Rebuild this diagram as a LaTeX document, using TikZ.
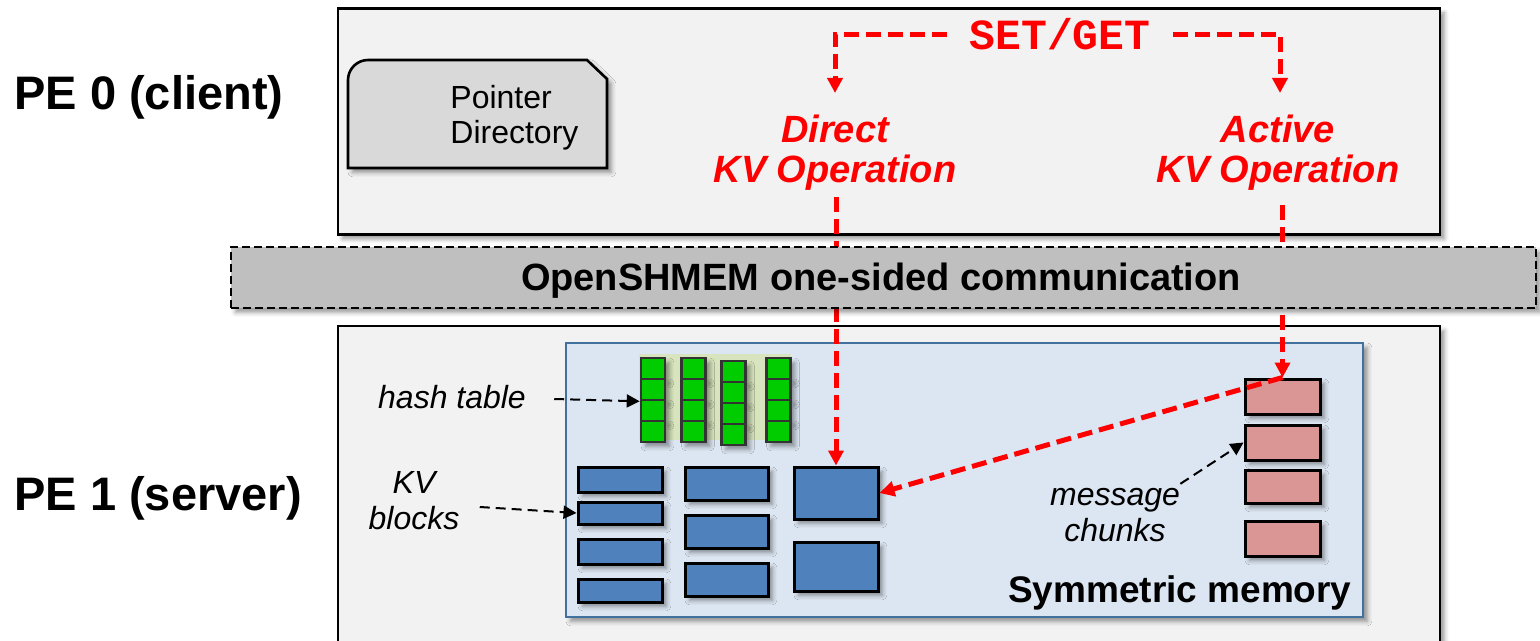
\documentclass[tikz,border=0pt]{standalone}
\usepackage{fontspec}
\setmainfont{Liberation Sans}
\newfontfamily\monobold{Liberation Mono}
\usetikzlibrary{arrows.meta,shadows.blur,calc}

\definecolor{pebg}{HTML}{F2F2F2}
\definecolor{bandbg}{HTML}{BFBFBF}
\definecolor{symbg}{HTML}{DCE6F2}
\definecolor{symborder}{HTML}{41719C}
\definecolor{kvblue}{HTML}{4F81BD}
\definecolor{cellgreen}{HTML}{00CC00}
\definecolor{hashbg}{HTML}{D7E4BD}
\definecolor{chunkpink}{HTML}{D99694}
\definecolor{dirgray}{HTML}{D9D9D9}
\definecolor{opred}{HTML}{FF0000}

\tikzset{
  soft/.style={blur shadow={shadow xshift=2.2pt,shadow yshift=-2.2pt,
      shadow blur radius=2.2pt,shadow opacity=40}},
  pebox/.style={draw=black,line width=1.3pt,fill=pebg,inner sep=0pt,soft},
  bandbox/.style={draw=black,line width=1.3pt,dash pattern=on 4pt off 2pt,
      fill=bandbg,inner sep=0pt,soft},
  symbox/.style={draw=symborder,line width=1pt,fill=symbg,inner sep=0pt,soft},
  kvb/.style={draw=black,line width=1.5pt,fill=kvblue,inner sep=0pt,soft},
  chunk/.style={kvb,fill=chunkpink},
  cell/.style={draw=black!80,line width=1.3pt,fill=cellgreen,inner sep=0pt,
      minimum width=12pt,minimum height=10.5pt,soft},
  redarrow/.style={draw=opred,line width=2.5pt,dash pattern=on 7.5pt off 3.5pt,
      -{Triangle[length=7.5pt,width=7.5pt]}},
  blackarrow/.style={draw=black,line width=1pt,dash pattern=on 5pt off 3pt,
      -{Triangle[length=6.5pt,width=6.5pt]}},
  pelabel/.style={font=\fontsize{23.5}{26}\selectfont\bfseries,inner sep=0pt,anchor=base west},
  oplabel/.style={font=\fontsize{19}{20}\selectfont\bfseries\itshape,text=opred,
      align=center,inner sep=0pt},
  note/.style={font=\fontsize{16}{18}\selectfont\itshape,align=center,inner sep=0pt},
}

\begin{document}
\begin{tikzpicture}[x=0.5pt,y=-0.5pt]
\useasboundingbox (0,0) rectangle (1540,641);
\clip (0,0) rectangle (1540,641);

% processing elements
\node[pebox,minimum width=551pt,minimum height=113pt] (pe0box) at (889,121.5) {};
\node[pebox,minimum width=551pt,minimum height=167pt] (pe1box) at (889,493) {};
\node[pelabel] (pe0) at (14,110) {PE 0 (client)};
\node[pelabel] (pe1) at (14,510) {PE 1 (server)};

% pointer directory (one rounded corner, one clipped corner)
\draw[draw=black,line width=1.3pt,fill=dirgray,soft]
  (348,168) -- (348,80) .. controls (348,69) and (357,60) .. (368,60)
  -- (587,60) -- (607,79) -- (607,168) -- cycle;
\node[font=\fontsize{16}{17.5}\selectfont,align=left,inner sep=0pt,anchor=west]
  (pd) at (450,118) {Pointer\\Directory};

% symmetric memory region
\node[symbox,minimum width=398.5pt,minimum height=137pt] (sym) at (964.5,480) {};
\node[font=\fontsize{18.5}{20}\selectfont\bfseries,inner sep=0pt,anchor=base east]
  (symlabel) at (1352,602) {Symmetric\ memory};

% hash table
\node[fill=hashbg,inner sep=0pt,minimum width=76pt,minimum height=43pt] (hash) at (715,397) {};
\foreach \c/\x/\y in {1/653/368.5,2/693.5/368.5,3/733.5/371.5,4/778.5/368.5}{
  \foreach \r in {1,2,3,4}{
    \node[cell] (h\c\r) at (\x,{\y+21*(\r-1)}) {};
  }
}

% KV blocks
\node[kvb,minimum width=42pt,minimum height=12.5pt] (k11) at (620,479.5) {};
\node[kvb,minimum width=42pt,minimum height=11pt]   (k12) at (620,513) {};
\node[kvb,minimum width=42pt,minimum height=12.5pt] (k13) at (620,551.5) {};
\node[kvb,minimum width=42pt,minimum height=11.5pt] (k14) at (620,590.5) {};
\node[kvb,minimum width=41.5pt,minimum height=16.5pt] (k21) at (726.5,483.5) {};
\node[kvb,minimum width=41.5pt,minimum height=16.5pt] (k22) at (726.5,531.5) {};
\node[kvb,minimum width=41.5pt,minimum height=16.5pt] (k23) at (726.5,579.5) {};
\node[kvb,minimum width=42pt,minimum height=26pt]   (k31) at (836,493) {};
\node[kvb,minimum width=42pt,minimum height=24.5pt] (k32) at (836,566.5) {};

% message chunks
\node[chunk,minimum width=37.5pt,minimum height=17.5pt] (m1) at (1282.5,396.5) {};
\node[chunk,minimum width=37.5pt,minimum height=17.5pt] (m2) at (1282.5,442.5) {};
\node[chunk,minimum width=37.5pt,minimum height=16.5pt] (m3) at (1282.5,486.5) {};
\node[chunk,minimum width=37.5pt,minimum height=17.5pt] (m4) at (1282.5,538.5) {};

% annotations
\node[note] (htlabel) at (452,397) {hash table};
\node[note] (kvlabel) at (414,501) {KV\\blocks};
\node[note] (msglabel) at (1115,515) {message\\chunks};
\draw[blackarrow] ([xshift=14pt,yshift=-1pt]htlabel.east) -- (h12.south west);
\draw[blackarrow] ([xshift=10pt,yshift=-3pt]kvlabel.east) -- (k12.west);
\draw[blackarrow] ([yshift=2pt]msglabel.north east) -- (m2.west);

% client requests
\node[font=\monobold\fontsize{21.5}{22}\selectfont\bfseries,text=opred,inner sep=0pt,anchor=base]
  (sg) at (1060,50) {SET/GET};
\node[oplabel] (direct) at (835,153) {Direct\\KV Operation};
\node[oplabel] (active) at (1278,153) {Active\\KV Operation};
\coordinate (dtip) at (835,93);
\coordinate (atip) at (1280,93);
\draw[redarrow] ([xshift=-11pt]sg.west) -| (dtip);
\draw[redarrow] ([xshift=11pt]sg.east) -| (atip);

\coordinate (dstart) at (836,197);
\coordinate (astart) at (1282.5,205);
\draw[redarrow] (dstart) -- (k31.north);
\draw[redarrow] (astart) -- (m1.north);
\draw[redarrow] (m1.north) -- (k31.east);

% communication layer
\node[bandbox,minimum width=652.5pt,minimum height=30.5pt] (band) at (883.5,277.5) {};
\node[font=\fontsize{19}{20}\selectfont\bfseries,inner sep=0pt,anchor=base]
  (bandtext) at (881,291) {OpenSHMEM one-sided communication};
\end{tikzpicture}
\end{document}
